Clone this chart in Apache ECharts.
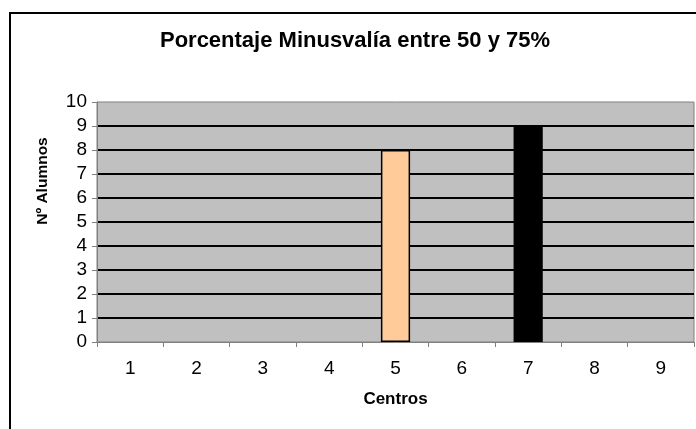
<!DOCTYPE html>
<html>
<head>
<meta charset="utf-8">
<script src="https://cdn.jsdelivr.net/npm/echarts@6/dist/echarts.min.js"></script>
<style>
  html, body { margin: 0; padding: 0; background: #fff; }
  #chart { width: 696px; height: 429px; }
</style>
</head>
<body>
<div id="chart"></div>
<script>
const centros = ['1', '2', '3', '4', '5', '6', '7', '8', '9'];
const alumnos = [0, 0, 0, 0, 8, 0, 9, 0, 0];
const yTicks = [0, 10, 1]; // min, max, interval

const barColors = { 4: '#FFCC99', 6: '#000000' };

const chart = echarts.init(document.getElementById('chart'));

const option = {
  backgroundColor: '#fff',
  animation: false,
  textStyle: { fontFamily: 'Liberation Sans, Arial, sans-serif' },
  title: {
    text: 'Porcentaje Minusvalía entre 50 y 75%',
    left: 350,
    textAlign: 'center',
    top: 25,
    textStyle: { fontSize: 22, fontWeight: 'bold', color: '#000' }
  },
  graphic: [{
    type: 'rect',
    shape: { x: 10, y: 13, width: 700, height: 430 },
    style: { fill: 'none', stroke: '#000', lineWidth: 2 },
    z: 100
  }, {
    type: 'text',
    x: 43,
    y: 181,
    rotation: Math.PI / 2,
    style: {
      text: 'Nº Alumnos',
      fontSize: 15.5,
      fontWeight: 'bold',
      fontFamily: 'Liberation Sans, Arial, sans-serif',
      fill: '#000',
      textAlign: 'center',
      textVerticalAlign: 'middle'
    }
  }],
  grid: {
    left: 97,
    right: 2,
    top: 102,
    bottom: 87,
    show: true,
    backgroundColor: '#C0C0C0',
    borderColor: '#808080',
    borderWidth: 1
  },
  xAxis: {
    type: 'category',
    data: centros,
    name: 'Centros',
    nameLocation: 'middle',
    nameGap: 49,
    nameTextStyle: { fontSize: 17, fontWeight: 'bold', color: '#000' },
    axisLine: { lineStyle: { color: '#808080', width: 1 } },
    axisTick: { show: true, length: 5, lineStyle: { color: '#808080' } },
    axisLabel: { fontSize: 19, color: '#000', margin: 17 }
  },
  yAxis: {
    type: 'value',
    min: yTicks[0],
    max: yTicks[1],
    interval: yTicks[2],
    axisLine: { show: true, lineStyle: { color: '#808080', width: 1 } },
    axisTick: { show: true, length: 5, lineStyle: { color: '#808080' } },
    axisLabel: { fontSize: 19, color: '#000', margin: 10 },
    splitLine: {
      show: true,
      showMinLine: false,
      showMaxLine: false,
      lineStyle: { color: '#000', width: 2 }
    }
  },
  series: [{
    type: 'bar',
    barWidth: '44%',
    data: alumnos.map((v, i) => ({
      value: v,
      itemStyle: {
        color: barColors[i] || '#FFCC99',
        borderColor: '#000',
        borderWidth: v > 0 ? 1.5 : 0
      }
    }))
  }]
};

chart.setOption(option);
</script>
</body>
</html>
